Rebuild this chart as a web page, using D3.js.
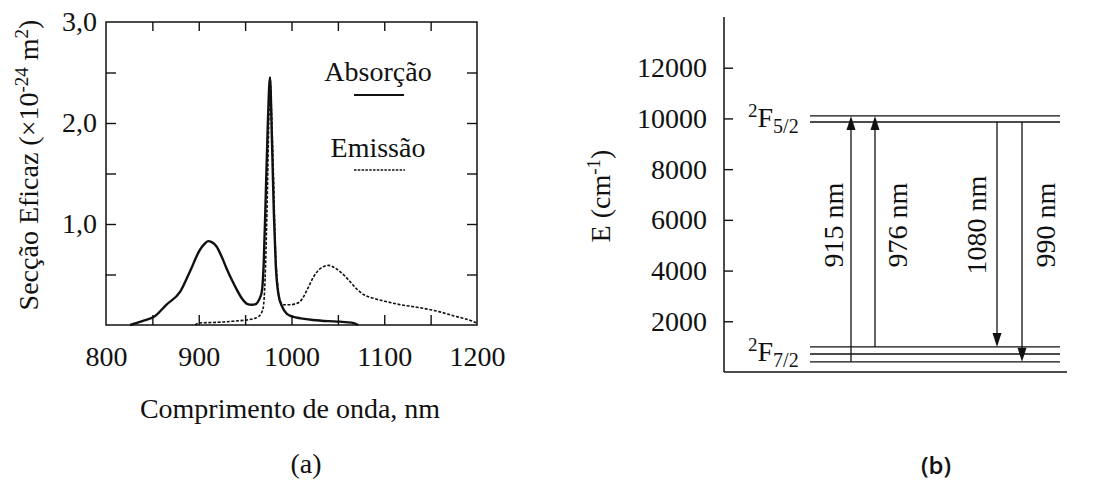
<!DOCTYPE html>
<html><head><meta charset="utf-8">
<script src="https://cdn.jsdelivr.net/npm/d3@7/dist/d3.min.js"></script>
<style>
html,body{margin:0;padding:0;background:#fff;}
svg{display:block;}
text{font-family:"Liberation Serif","Times New Roman",serif;fill:#111;}
</style></head>
<body>
<svg id="chart" width="1098" height="485"></svg>
<script>
// ---- Data: panel (a) absorption / emission cross sections ----
const absWavelength = [826, 840, 853, 865, 880, 891, 901, 906, 910, 914, 919, 925, 930, 936, 941, 946, 952, 957, 962, 965, 968, 970, 972, 974.5, 976.8, 979, 981, 983, 986, 990, 995, 1002, 1010, 1023, 1040, 1052, 1065, 1072];
const absValue      = [0,   0.04, 0.09, 0.2, 0.33, 0.54, 0.74, 0.8, 0.83, 0.82, 0.78, 0.67, 0.56, 0.44, 0.35, 0.27, 0.21, 0.2, 0.21, 0.25, 0.33, 0.6, 1.2, 2.0, 2.45, 1.8, 1.1, 0.6, 0.3, 0.18, 0.11, 0.08, 0.066, 0.05, 0.038, 0.033, 0.023, 0];
const emWavelength  = [896, 901, 915, 927, 940, 952, 960, 964, 967, 969.5, 971.5, 973.5, 975.5, 976.8, 978.5, 980.5, 982.5, 985, 988, 992, 998, 1004, 1009, 1013, 1018, 1024, 1030, 1035, 1040, 1046, 1052, 1058, 1064, 1071, 1078, 1090, 1103, 1118, 1132, 1145, 1160, 1175, 1188, 1200];
const emValue       = [0,   0.02, 0.025, 0.03, 0.04, 0.05, 0.065, 0.08, 0.11, 0.17, 0.45, 1.1, 2.0, 2.45, 2.1, 1.5, 0.8, 0.4, 0.23, 0.2, 0.2, 0.21, 0.23, 0.28, 0.37, 0.48, 0.55, 0.58, 0.59, 0.57, 0.53, 0.48, 0.42, 0.35, 0.3, 0.26, 0.23, 0.2, 0.18, 0.16, 0.13, 0.09, 0.06, 0.02];
const seriesNames   = ["Absorção", "Emissão"];
const xTickLabels   = [800, 900, 1000, 1100, 1200];
const xMinorTicks   = [850, 900, 950, 1000, 1050, 1100, 1150];
const yTickLabels   = [1, 2, 3];
const yMinorTicks   = [0.5, 1, 1.5, 2, 2.5];

// ---- Data: panel (b) Yb3+ energy levels ----
const eTicks          = [2000, 4000, 6000, 8000, 10000, 12000];
const upperLevels     = [10100, 9860];          // 2F5/2 manifold
const lowerLevels     = [990, 710, 400];        // 2F7/2 manifold
const transitionNames = ["915 nm", "976 nm", "1080 nm", "990 nm"];
const transitionFrom  = [400, 990, 9860, 9860];
const transitionTo    = [10100, 10100, 990, 400];

// ---- Layout ----
const svg = d3.select("#chart");
svg.append("rect").attr("width",1098).attr("height",485).attr("fill","#fff");
const FS = 28;

// ===== Panel (a) =====
const x = d3.scaleLinear().domain([800,1200]).range([106,477]);
const y = d3.scaleLinear().domain([0,3]).range([325,22]);
const ga = svg.append("g");

function styleAxis(g){
  g.select(".domain").remove();
  g.selectAll(".tick line").attr("stroke","#111").attr("stroke-width",1.4);
  g.selectAll("text").attr("font-family","Liberation Serif, serif").attr("font-size",FS).attr("fill","#111");
}
ga.append("g").attr("transform","translate(0,325)")
  .call(d3.axisBottom(x).tickValues(xMinorTicks).tickSize(-10).tickFormat("")).call(styleAxis);
ga.append("g").attr("transform","translate(0,22)")
  .call(d3.axisTop(x).tickValues(xMinorTicks).tickSize(-9).tickFormat("")).call(styleAxis);
ga.append("g").attr("transform","translate(106,0)")
  .call(d3.axisLeft(y).tickValues(yMinorTicks).tickSize(-10).tickFormat("")).call(styleAxis);
ga.append("g").attr("transform","translate(477,0)")
  .call(d3.axisRight(y).tickValues(yMinorTicks).tickSize(-10).tickFormat("")).call(styleAxis);
// labels
ga.append("g").attr("transform","translate(0,325)")
  .call(d3.axisBottom(x).tickValues(xTickLabels).tickSize(0).tickPadding(21).tickFormat(d3.format("d"))).call(styleAxis);
ga.append("g").attr("transform","translate(106,0)")
  .call(d3.axisLeft(y).tickValues(yTickLabels).tickSize(0).tickPadding(9).tickFormat(d=>d3.format(".1f")(d).replace(".",","))).call(styleAxis);
// frame
ga.append("rect").attr("x",x(800)).attr("y",y(3)).attr("width",x(1200)-x(800)).attr("height",y(0)-y(3))
  .attr("fill","none").attr("stroke","#111").attr("stroke-width",1.5);

const line = d3.line().x(d=>x(d[0])).y(d=>y(d[1])).curve(d3.curveMonotoneX);
ga.append("path").datum(d3.zip(absWavelength,absValue)).attr("d",line)
  .attr("fill","none").attr("stroke","#111").attr("stroke-width",2.4).attr("stroke-linejoin","round");
ga.append("path").datum(d3.zip(emWavelength,emValue)).attr("d",line)
  .attr("fill","none").attr("stroke","#111").attr("stroke-width",1.6).attr("stroke-dasharray","3,1.6");

// legend
ga.append("text").attr("x",378).attr("y",81).attr("text-anchor","middle").attr("font-size",FS).text(seriesNames[0]);
ga.append("line").attr("x1",354).attr("x2",404).attr("y1",95).attr("y2",95).attr("stroke","#111").attr("stroke-width",2);
ga.append("text").attr("x",378).attr("y",157).attr("text-anchor","middle").attr("font-size",FS).text(seriesNames[1]);
ga.append("line").attr("x1",354).attr("x2",405).attr("y1",170).attr("y2",170).attr("stroke","#111").attr("stroke-width",1.6).attr("stroke-dasharray","2.5,1.3");

// axis titles
const yt = ga.append("text").attr("transform","translate(28,165) rotate(-90)").attr("dy","0.35em")
  .attr("text-anchor","middle").attr("font-size",FS);
yt.append("tspan").text("Secção Eficaz (×10");
yt.append("tspan").attr("font-size",19).attr("dy",-10).text("-24");
yt.append("tspan").attr("dy",10).text(" m");
yt.append("tspan").attr("font-size",19).attr("dy",-10).text("2");
yt.append("tspan").attr("dy",10).text(")");
ga.append("text").attr("x",290).attr("y",418).attr("text-anchor","middle").attr("font-size",FS).text("Comprimento de onda, nm");
ga.append("text").attr("x",306).attr("y",473).attr("text-anchor","middle").attr("font-size",FS).text("(a)");

// ===== Panel (b) =====
const E = d3.scaleLinear().domain([0,14000]).range([372,17]);
const gb = svg.append("g");
const axX = 724, xEnd = 1067, lvlX0 = 810, lvlX1 = 1060;
gb.append("line").attr("x1",axX).attr("x2",axX).attr("y1",E(14000)).attr("y2",E(0)).attr("stroke","#111").attr("stroke-width",1.5);
gb.append("line").attr("x1",axX).attr("x2",xEnd).attr("y1",E(0)).attr("y2",E(0)).attr("stroke","#111").attr("stroke-width",1.5);
gb.append("g").attr("transform",`translate(${axX},0)`)
  .call(d3.axisRight(E).tickValues(eTicks).tickSize(9).tickFormat("")).call(styleAxis);
gb.append("g").attr("transform",`translate(${axX},0)`)
  .call(d3.axisLeft(E).tickValues(eTicks).tickSize(0).tickPadding(17).tickFormat(d3.format("d"))).call(styleAxis);

const et = gb.append("text").attr("transform","translate(600,196) rotate(-90)").attr("dy","0.35em")
  .attr("text-anchor","middle").attr("font-size",FS);
et.append("tspan").text("E (cm");
et.append("tspan").attr("font-size",19).attr("dy",-10).text("-1");
et.append("tspan").attr("dy",10).text(")");

gb.selectAll("line.up").data(upperLevels).join("line").attr("class","up")
  .attr("x1",lvlX0).attr("x2",lvlX1).attr("y1",d=>E(d)).attr("y2",d=>E(d)).attr("stroke","#111").attr("stroke-width",1.4);
gb.selectAll("line.low").data(lowerLevels).join("line").attr("class","low")
  .attr("x1",lvlX0).attr("x2",lvlX1).attr("y1",d=>E(d)).attr("y2",d=>E(d)).attr("stroke","#111").attr("stroke-width",1.4);

function levelLabel(xp, yb, sub){
  const t = gb.append("text").attr("x",xp).attr("y",yb).attr("font-size",FS);
  t.append("tspan").attr("font-size",19).attr("dy",-10).text("2");
  t.append("tspan").attr("dy",10).text("F");
  t.append("tspan").attr("font-size",20).attr("dy",6).text(sub);
}
levelLabel(748, 127, "5/2");
levelLabel(748, 361, "7/2");

const arrowX   = [851, 875, 997, 1022];
const labelOff = [-18, 22, -21, 23];
transitionNames.forEach((name,i)=>{
  const xa = arrowX[i], y0 = E(transitionFrom[i]), y1 = E(transitionTo[i]);
  const dir = y1 < y0 ? -1 : 1; // -1 up
  const headL = 14, headW = 4.5;
  gb.append("line").attr("x1",xa).attr("x2",xa).attr("y1",y0).attr("y2",y1 - dir*headL*0.5)
    .attr("stroke","#111").attr("stroke-width",1.3);
  gb.append("path").attr("d",`M${xa},${y1} L${xa-headW},${y1-dir*headL} L${xa+headW},${y1-dir*headL} Z`).attr("fill","#111");
  gb.append("text").attr("transform",`translate(${xa+labelOff[i]},225) rotate(-90)`).attr("dy","0.35em")
    .attr("text-anchor","middle").attr("font-size",FS).text(name);
});

gb.append("text").attr("x",936).attr("y",474).attr("text-anchor","middle")
  .style("font-family","'Open Sans', 'Lato', sans-serif").attr("font-weight",600).attr("font-size",24).text("(b)");
</script>
</body></html>
